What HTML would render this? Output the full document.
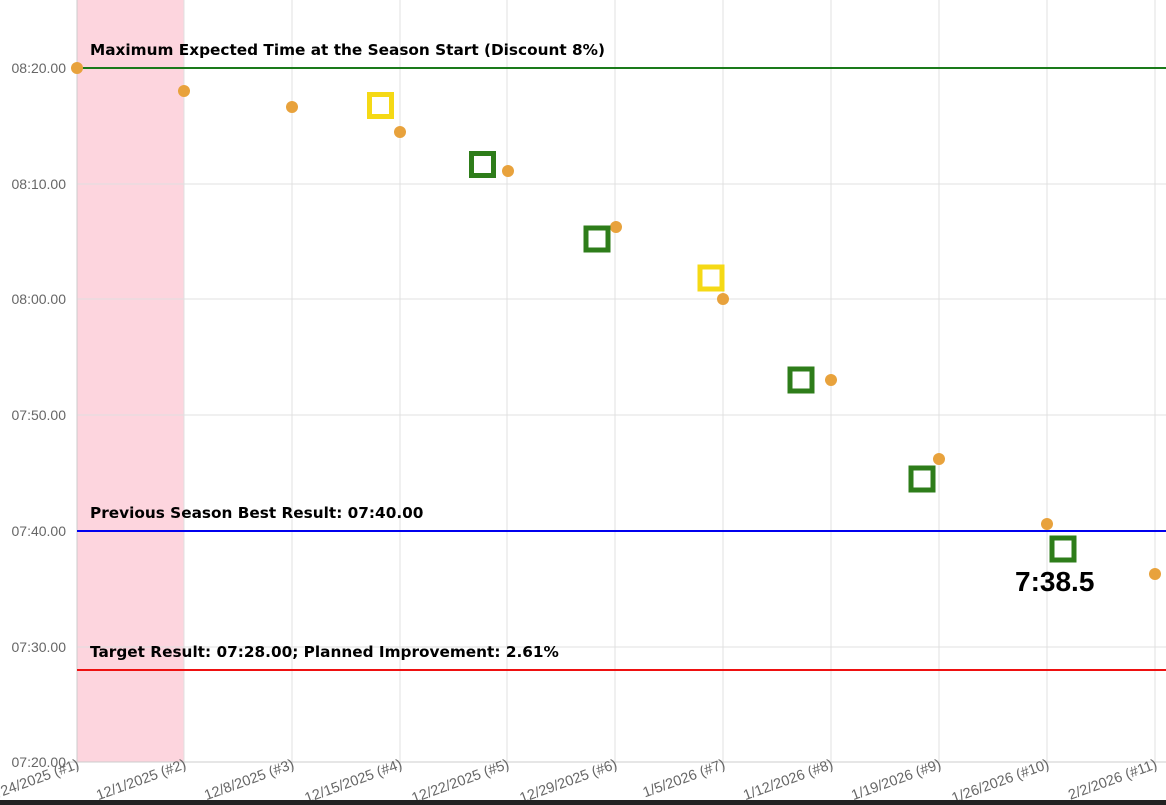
<!DOCTYPE html>
<html><head><meta charset="utf-8"><style>html,body{margin:0;padding:0;background:#fff;}svg{display:block;font-family:"Liberation Sans",sans-serif;}</style></head>
<body>
<svg width="1166" height="805" viewBox="0 0 1166 805">
<rect x="0" y="0" width="1166" height="805" fill="#fff"/>
<rect x="77" y="0" width="107" height="762" fill="#fdd5de"/>
<g stroke="#e0e0e0" stroke-width="1">
<line x1="77" y1="184" x2="1166" y2="184"/><line x1="77" y1="299" x2="1166" y2="299"/>
<line x1="77" y1="415" x2="1166" y2="415"/><line x1="77" y1="647" x2="1166" y2="647"/>
<line x1="184" y1="0" x2="184" y2="770"/><line x1="292" y1="0" x2="292" y2="770"/>
<line x1="400" y1="0" x2="400" y2="770"/><line x1="507" y1="0" x2="507" y2="770"/>
<line x1="615" y1="0" x2="615" y2="770"/><line x1="723" y1="0" x2="723" y2="770"/>
<line x1="831" y1="0" x2="831" y2="770"/><line x1="939" y1="0" x2="939" y2="770"/>
<line x1="1047" y1="0" x2="1047" y2="770"/><line x1="1155" y1="0" x2="1155" y2="770"/>
</g>
<line x1="69" y1="762" x2="1166" y2="762" stroke="#ccc"/>
<line x1="77" y1="0" x2="77" y2="770" stroke="#ccc"/>
<g font-size="14" fill="#666" text-anchor="end">
<text x="66" y="73">08:20.00</text><text x="66" y="189">08:10.00</text>
<text x="66" y="304">08:00.00</text><text x="66" y="420">07:50.00</text>
<text x="66" y="536">07:40.00</text><text x="66" y="652">07:30.00</text>
<text x="66" y="767">07:20.00</text>
</g>
<g font-size="14.5" fill="#666" text-anchor="end">
<text transform="translate(80,768) rotate(-20)">11/24/2025 (#1)</text>
<text transform="translate(187,768) rotate(-20)">12/1/2025 (#2)</text>
<text transform="translate(295,768) rotate(-20)">12/8/2025 (#3)</text>
<text transform="translate(403,768) rotate(-20)">12/15/2025 (#4)</text>
<text transform="translate(510,768) rotate(-20)">12/22/2025 (#5)</text>
<text transform="translate(618,768) rotate(-20)">12/29/2025 (#6)</text>
<text transform="translate(726,768) rotate(-20)">1/5/2026 (#7)</text>
<text transform="translate(834,768) rotate(-20)">1/12/2026 (#8)</text>
<text transform="translate(942,768) rotate(-20)">1/19/2026 (#9)</text>
<text transform="translate(1050,768) rotate(-20)">1/26/2026 (#10)</text>
<text transform="translate(1158,768) rotate(-20)">2/2/2026 (#11)</text>
</g>
<rect x="0" y="800" width="1166" height="5" fill="#222"/>
<line x1="77" y1="68" x2="1166" y2="68" stroke="#1a7a1a" stroke-width="2"/>
<line x1="77" y1="531" x2="1166" y2="531" stroke="#0000ee" stroke-width="2"/>
<line x1="77" y1="670" x2="1166" y2="670" stroke="#ee1111" stroke-width="2"/>
<g font-size="15.3" font-weight="bold" fill="#000" style="font-family:'DejaVu Sans',sans-serif">
<text x="90" y="55">Maximum Expected Time at the Season Start (Discount 8%)</text>
<text x="90" y="518">Previous Season Best Result: 07:40.00</text>
<text x="90" y="657">Target Result: 07:28.00; Planned Improvement: 2.61%</text>
</g>
<g fill="#e8a23c">
<circle cx="77" cy="68" r="6"/><circle cx="184" cy="91" r="6"/><circle cx="292" cy="107" r="6"/>
<circle cx="400" cy="132" r="6"/><circle cx="508" cy="171" r="6"/><circle cx="616" cy="227" r="6"/>
<circle cx="723" cy="299" r="6"/><circle cx="831" cy="380" r="6"/><circle cx="939" cy="459" r="6"/>
<circle cx="1047" cy="524" r="6"/><circle cx="1155" cy="574" r="6"/>
</g>
<g fill="none" stroke-width="5">
<rect x="369.5" y="94.5" width="22" height="22" stroke="#f5d915"/>
<rect x="471.5" y="153.5" width="22" height="22" stroke="#2e7d1a"/>
<rect x="586" y="228" width="22" height="22" stroke="#2e7d1a"/>
<rect x="700" y="267" width="22" height="22" stroke="#f5d915"/>
<rect x="790" y="369" width="22" height="22" stroke="#2e7d1a"/>
<rect x="911" y="468" width="22" height="22" stroke="#2e7d1a"/>
<rect x="1052" y="538" width="22" height="22" stroke="#2e7d1a"/>
</g>
<text x="1015" y="591" font-size="28" font-weight="bold" fill="#000">7:38.5</text>
</svg>
</body></html>
